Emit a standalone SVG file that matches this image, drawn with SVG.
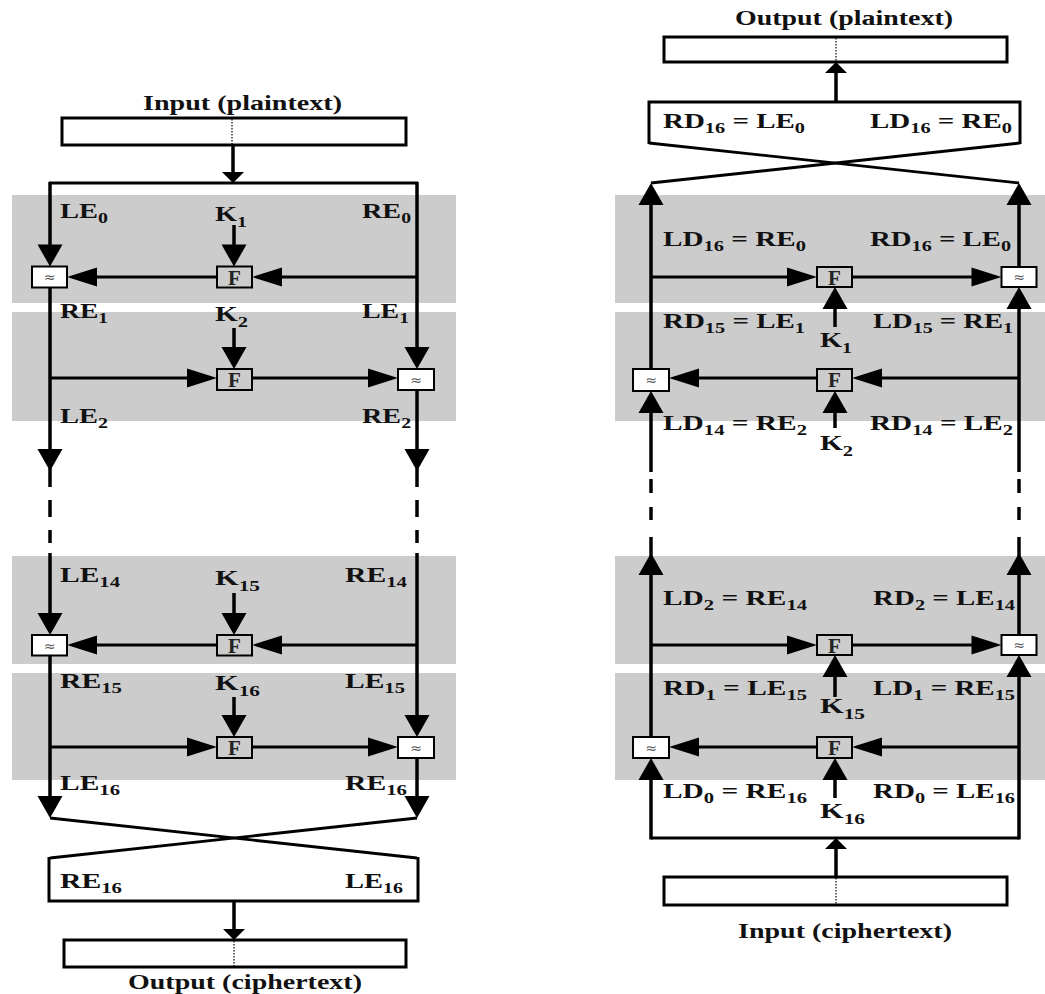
<svg xmlns="http://www.w3.org/2000/svg" xmlns:xlink="http://www.w3.org/1999/xlink" width="1045" height="994" viewBox="0 0 1045 994">
<style>
.band{fill:#cccccc}
.v{stroke:#000;stroke-width:3.5;fill:none}
.h{stroke:#000;stroke-width:2.8;fill:none}
.box{fill:#fff;stroke:#000;stroke-width:3}
.dot{stroke:#000;stroke-width:1.2;stroke-dasharray:1.5 1.5}
.fbox{fill:#cccccc;stroke:#000;stroke-width:2}
.xbox{fill:#fff;stroke:#000;stroke-width:2}
.ft{font-family:'Liberation Serif',serif;font-weight:bold;font-size:21px;fill:#222;text-anchor:middle}
.xt{font-family:'DejaVu Sans',sans-serif;font-size:14px;fill:#555;text-anchor:middle}
text.l{font-family:'Liberation Serif',serif;font-weight:bold;font-size:20px;fill:#111}
.s{font-size:14px}
</style>
<defs>
<path id="aD" d="M-12.5,-22 L12.5,-22 L0,0 Z"/>
<path id="aU" d="M-12.5,22 L12.5,22 L0,0 Z"/>
<path id="aR" d="M-30,-9.5 L-30,9.5 L0,0 Z"/>
<path id="aL" d="M30,-9.5 L30,9.5 L0,0 Z"/>
<path id="sD" d="M-11,-11 L11,-11 L0,0 Z"/>
<path id="sU" d="M-11,11 L11,11 L0,0 Z"/>
</defs>

<g id="bands">
<rect class="band" x="12" y="195" width="444" height="108"/>
<rect class="band" x="12" y="312" width="444" height="109"/>
<rect class="band" x="12" y="556" width="444" height="108"/>
<rect class="band" x="12" y="673" width="444" height="107"/>
<rect class="band" x="615" y="195" width="430" height="108"/>
<rect class="band" x="615" y="312" width="430" height="109"/>
<rect class="band" x="615" y="556" width="430" height="108"/>
<rect class="band" x="615" y="673" width="430" height="107"/>
</g>

<g id="connectors">
<line class="v" x1="233" y1="145" x2="233" y2="175"/>
<use href="#sD" x="233" y="183"/>
<line class="h" x1="49" y1="183" x2="418" y2="183"/>
<line class="v" x1="50" y1="182" x2="50" y2="247"/>
<use href="#aD" x="50" y="266.5"/>
<line class="v" x1="50" y1="287.5" x2="50" y2="452"/>
<use href="#aD" x="50" y="471"/>
<line class="v" x1="50" y1="468" x2="50" y2="487"/>
<line class="v" x1="50" y1="500" x2="50" y2="517"/>
<line class="v" x1="50" y1="530" x2="50" y2="543"/>
<line class="v" x1="50" y1="553" x2="50" y2="616"/>
<use href="#aD" x="50" y="635"/>
<line class="v" x1="50" y1="655" x2="50" y2="799"/>
<use href="#aD" x="50" y="818"/>
<line class="v" x1="417" y1="182" x2="417" y2="350"/>
<use href="#aD" x="417" y="369"/>
<line class="v" x1="417" y1="391" x2="417" y2="452"/>
<use href="#aD" x="417" y="471"/>
<line class="v" x1="417" y1="468" x2="417" y2="487"/>
<line class="v" x1="417" y1="500" x2="417" y2="517"/>
<line class="v" x1="417" y1="530" x2="417" y2="543"/>
<line class="v" x1="417" y1="553" x2="417" y2="718"/>
<use href="#aD" x="417" y="737"/>
<line class="v" x1="417" y1="758" x2="417" y2="799"/>
<use href="#aD" x="417" y="818"/>
<line class="h" x1="417" y1="277" x2="280" y2="277"/>
<use href="#aL" x="252" y="277"/>
<line class="h" x1="217" y1="277" x2="95" y2="277"/>
<use href="#aL" x="67" y="277"/>
<line class="v" x1="234" y1="225" x2="234" y2="247"/>
<use href="#aD" x="234" y="266.5"/>
<line class="h" x1="50" y1="378" x2="190" y2="378"/>
<use href="#aR" x="217" y="378"/>
<line class="h" x1="252" y1="378" x2="370" y2="378"/>
<use href="#aR" x="398" y="378"/>
<line class="v" x1="234" y1="328" x2="234" y2="350"/>
<use href="#aD" x="234" y="369"/>
<line class="h" x1="417" y1="645" x2="280" y2="645"/>
<use href="#aL" x="252" y="645"/>
<line class="h" x1="217" y1="645" x2="95" y2="645"/>
<use href="#aL" x="67" y="645"/>
<line class="v" x1="234" y1="593" x2="234" y2="616"/>
<use href="#aD" x="234" y="635"/>
<line class="h" x1="50" y1="747" x2="190" y2="747"/>
<use href="#aR" x="217" y="747"/>
<line class="h" x1="252" y1="747" x2="370" y2="747"/>
<use href="#aR" x="398" y="747"/>
<line class="v" x1="234" y1="697" x2="234" y2="718"/>
<use href="#aD" x="234" y="737"/>
<line class="h" x1="50" y1="818" x2="417" y2="858"/>
<line class="h" x1="417" y1="818" x2="50" y2="858"/>
<polyline class="h" points="49,857 49,901 418,901 418,857" style="stroke-width:3"/>
<line class="v" x1="234" y1="901" x2="234" y2="931"/>
<use href="#sD" x="234" y="940"/>

<line class="v" x1="836" y1="102" x2="836" y2="70"/>
<use href="#sU" x="836" y="62"/>
<polyline class="h" points="649,144 649,102 1020,102 1020,144" style="stroke-width:3"/>
<line class="h" x1="649" y1="143" x2="1019" y2="183"/>
<line class="h" x1="1020" y1="143" x2="651" y2="183"/>
<use href="#aU" x="651" y="183"/>
<line class="v" x1="651" y1="200" x2="651" y2="369"/>
<use href="#aU" x="651" y="391"/>
<line class="v" x1="651" y1="408" x2="651" y2="472"/>
<line class="v" x1="651" y1="479" x2="651" y2="493"/>
<line class="v" x1="651" y1="507" x2="651" y2="520"/>
<line class="v" x1="651" y1="537" x2="651" y2="560"/>
<use href="#aU" x="651" y="553"/>
<line class="v" x1="651" y1="570" x2="651" y2="737"/>
<use href="#aU" x="651" y="758"/>
<line class="v" x1="651" y1="775" x2="651" y2="839.5"/>
<use href="#aU" x="1019" y="183"/>
<line class="v" x1="1019" y1="200" x2="1019" y2="267"/>
<use href="#aU" x="1019" y="287"/>
<line class="v" x1="1019" y1="304" x2="1019" y2="472"/>
<line class="v" x1="1019" y1="479" x2="1019" y2="493"/>
<line class="v" x1="1019" y1="507" x2="1019" y2="520"/>
<line class="v" x1="1019" y1="537" x2="1019" y2="560"/>
<use href="#aU" x="1019" y="553"/>
<line class="v" x1="1019" y1="570" x2="1019" y2="635"/>
<use href="#aU" x="1019" y="655"/>
<line class="v" x1="1019" y1="672" x2="1019" y2="839.5"/>
<line class="h" x1="651" y1="838" x2="1019" y2="838"/>
<line class="v" x1="836" y1="877" x2="836" y2="846"/>
<use href="#sU" x="836" y="838"/>
<line class="h" x1="651" y1="277" x2="790" y2="277"/>
<use href="#aR" x="817" y="277"/>
<line class="h" x1="852" y1="277" x2="975" y2="277"/>
<use href="#aR" x="1001.5" y="277"/>
<line class="v" x1="835" y1="327" x2="835" y2="305"/>
<use href="#aU" x="835" y="287"/>
<line class="h" x1="1019" y1="378" x2="880" y2="378"/>
<use href="#aL" x="852" y="378"/>
<line class="h" x1="817" y1="378" x2="697" y2="378"/>
<use href="#aL" x="669" y="378"/>
<line class="v" x1="835" y1="428" x2="835" y2="408"/>
<use href="#aU" x="835" y="391"/>
<line class="h" x1="651" y1="645" x2="790" y2="645"/>
<use href="#aR" x="817" y="645"/>
<line class="h" x1="852" y1="645" x2="975" y2="645"/>
<use href="#aR" x="1001.5" y="645"/>
<line class="v" x1="835" y1="697" x2="835" y2="673"/>
<use href="#aU" x="835" y="655"/>
<line class="h" x1="1019" y1="747" x2="880" y2="747"/>
<use href="#aL" x="852" y="747"/>
<line class="h" x1="817" y1="747" x2="697" y2="747"/>
<use href="#aL" x="669" y="747"/>
<line class="v" x1="835" y1="798" x2="835" y2="775"/>
<use href="#aU" x="835" y="758"/>
</g>

<g id="input-plaintext"><rect class="box" x="62" y="118" width="344" height="27"/><line class="dot" x1="232" y1="119" x2="232" y2="144"/></g>
<g id="output-ciphertext"><rect class="box" x="64" y="940" width="342" height="27"/><line class="dot" x1="234" y1="941" x2="234" y2="966"/></g>
<g id="output-plaintext"><rect class="box" x="664" y="37" width="343" height="25"/><line class="dot" x1="836" y1="38" x2="836" y2="61"/></g>
<g id="input-ciphertext"><rect class="box" x="664" y="877" width="343" height="28"/><line class="dot" x1="836" y1="878" x2="836" y2="904"/></g>

<g id="enc-f1"><rect class="fbox" x="217" y="266.5" width="35" height="21"/><text class="ft" x="234.5" y="284.5">F</text></g>
<g id="enc-x1"><rect class="xbox" x="32" y="266.5" width="35" height="21"/><text class="xt" x="49.5" y="282">≈</text></g>
<g id="enc-f2"><rect class="fbox" x="217" y="369" width="35" height="21"/><text class="ft" x="234.5" y="387">F</text></g>
<g id="enc-x2"><rect class="xbox" x="398" y="369" width="36" height="21"/><text class="xt" x="416" y="384.5">≈</text></g>
<g id="enc-f15"><rect class="fbox" x="217" y="635" width="35" height="20.5"/><text class="ft" x="234.5" y="653">F</text></g>
<g id="enc-x15"><rect class="xbox" x="32" y="635" width="35" height="20.5"/><text class="xt" x="49.5" y="650.5">≈</text></g>
<g id="enc-f16"><rect class="fbox" x="217" y="737" width="35" height="21"/><text class="ft" x="234.5" y="755">F</text></g>
<g id="enc-x16"><rect class="xbox" x="398" y="737" width="36" height="21"/><text class="xt" x="416" y="752.5">≈</text></g>

<g id="dec-f16"><rect class="fbox" x="817" y="267" width="35" height="20"/><text class="ft" x="834.5" y="284.5">F</text></g>
<g id="dec-x16"><rect class="xbox" x="1001.5" y="267" width="35" height="20"/><text class="xt" x="1019" y="282">≈</text></g>
<g id="dec-f15"><rect class="fbox" x="817" y="369" width="35" height="22"/><text class="ft" x="834.5" y="387">F</text></g>
<g id="dec-x15"><rect class="xbox" x="633" y="369" width="36" height="22"/><text class="xt" x="651" y="385">≈</text></g>
<g id="dec-f2"><rect class="fbox" x="817" y="635" width="35" height="20"/><text class="ft" x="834.5" y="652.5">F</text></g>
<g id="dec-x2"><rect class="xbox" x="1001.5" y="635" width="35" height="20"/><text class="xt" x="1019" y="650">≈</text></g>
<g id="dec-f1"><rect class="fbox" x="817" y="737" width="35" height="21"/><text class="ft" x="834.5" y="755">F</text></g>
<g id="dec-x1"><rect class="xbox" x="633" y="737" width="36" height="21"/><text class="xt" x="651" y="752.5">≈</text></g>

<g id="labels">
<text class="l" x="143" y="110" textLength="199" lengthAdjust="spacingAndGlyphs">Input (plaintext)</text>
<text class="l" x="128" y="989" textLength="234" lengthAdjust="spacingAndGlyphs">Output (ciphertext)</text>
<text class="l" x="60" y="218" textLength="48" lengthAdjust="spacingAndGlyphs">LE<tspan class="s" dy="5">0</tspan></text>
<text class="l" x="215" y="221" textLength="32" lengthAdjust="spacingAndGlyphs">K<tspan class="s" dy="6">1</tspan></text>
<text class="l" x="362" y="218" textLength="49" lengthAdjust="spacingAndGlyphs">RE<tspan class="s" dy="5">0</tspan></text>
<text class="l" x="60" y="318" textLength="48" lengthAdjust="spacingAndGlyphs">RE<tspan class="s" dy="5">1</tspan></text>
<text class="l" x="215" y="321" textLength="33" lengthAdjust="spacingAndGlyphs">K<tspan class="s" dy="6">2</tspan></text>
<text class="l" x="362" y="318" textLength="47" lengthAdjust="spacingAndGlyphs">LE<tspan class="s" dy="5">1</tspan></text>
<text class="l" x="60" y="423" textLength="48" lengthAdjust="spacingAndGlyphs">LE<tspan class="s" dy="5">2</tspan></text>
<text class="l" x="362" y="423" textLength="49" lengthAdjust="spacingAndGlyphs">RE<tspan class="s" dy="5">2</tspan></text>
<text class="l" x="60" y="582" textLength="60" lengthAdjust="spacingAndGlyphs">LE<tspan class="s" dy="5">14</tspan></text>
<text class="l" x="215" y="585" textLength="45" lengthAdjust="spacingAndGlyphs">K<tspan class="s" dy="6">15</tspan></text>
<text class="l" x="345" y="582" textLength="62" lengthAdjust="spacingAndGlyphs">RE<tspan class="s" dy="5">14</tspan></text>
<text class="l" x="60" y="688" textLength="62" lengthAdjust="spacingAndGlyphs">RE<tspan class="s" dy="5">15</tspan></text>
<text class="l" x="215" y="690" textLength="45" lengthAdjust="spacingAndGlyphs">K<tspan class="s" dy="6">16</tspan></text>
<text class="l" x="345" y="688" textLength="60" lengthAdjust="spacingAndGlyphs">LE<tspan class="s" dy="5">15</tspan></text>
<text class="l" x="60" y="790" textLength="60" lengthAdjust="spacingAndGlyphs">LE<tspan class="s" dy="5">16</tspan></text>
<text class="l" x="345" y="790" textLength="62" lengthAdjust="spacingAndGlyphs">RE<tspan class="s" dy="5">16</tspan></text>
<text class="l" x="60" y="888" textLength="62" lengthAdjust="spacingAndGlyphs">RE<tspan class="s" dy="5">16</tspan></text>
<text class="l" x="345" y="888" textLength="58" lengthAdjust="spacingAndGlyphs">LE<tspan class="s" dy="5">16</tspan></text>

<text class="l" x="735" y="25" textLength="218" lengthAdjust="spacingAndGlyphs">Output (plaintext)</text>
<text class="l" x="738" y="938" textLength="214" lengthAdjust="spacingAndGlyphs">Input (ciphertext)</text>
<text class="l" x="663" y="128" textLength="142" lengthAdjust="spacingAndGlyphs">RD<tspan class="s" dy="5">16</tspan><tspan dy="-5"> = LE</tspan><tspan class="s" dy="5">0</tspan></text>
<text class="l" x="870" y="128" textLength="142" lengthAdjust="spacingAndGlyphs">LD<tspan class="s" dy="5">16</tspan><tspan dy="-5"> = RE</tspan><tspan class="s" dy="5">0</tspan></text>
<text class="l" x="663" y="246" textLength="143" lengthAdjust="spacingAndGlyphs">LD<tspan class="s" dy="5">16</tspan><tspan dy="-5"> = RE</tspan><tspan class="s" dy="5">0</tspan></text>
<text class="l" x="870" y="246" textLength="141" lengthAdjust="spacingAndGlyphs">RD<tspan class="s" dy="5">16</tspan><tspan dy="-5"> = LE</tspan><tspan class="s" dy="5">0</tspan></text>
<text class="l" x="663" y="328" textLength="142" lengthAdjust="spacingAndGlyphs">RD<tspan class="s" dy="5">15</tspan><tspan dy="-5"> = LE</tspan><tspan class="s" dy="5">1</tspan></text>
<text class="l" x="873" y="328" textLength="140" lengthAdjust="spacingAndGlyphs">LD<tspan class="s" dy="5">15</tspan><tspan dy="-5"> = RE</tspan><tspan class="s" dy="5">1</tspan></text>
<text class="l" x="820" y="347" textLength="32" lengthAdjust="spacingAndGlyphs">K<tspan class="s" dy="6">1</tspan></text>
<text class="l" x="663" y="430" textLength="144" lengthAdjust="spacingAndGlyphs">LD<tspan class="s" dy="5">14</tspan><tspan dy="-5"> = RE</tspan><tspan class="s" dy="5">2</tspan></text>
<text class="l" x="870" y="430" textLength="143" lengthAdjust="spacingAndGlyphs">RD<tspan class="s" dy="5">14</tspan><tspan dy="-5"> = LE</tspan><tspan class="s" dy="5">2</tspan></text>
<text class="l" x="820" y="450" textLength="33" lengthAdjust="spacingAndGlyphs">K<tspan class="s" dy="6">2</tspan></text>
<text class="l" x="663" y="605" textLength="144" lengthAdjust="spacingAndGlyphs">LD<tspan class="s" dy="5">2</tspan><tspan dy="-5"> = RE</tspan><tspan class="s" dy="5">14</tspan></text>
<text class="l" x="873" y="605" textLength="142" lengthAdjust="spacingAndGlyphs">RD<tspan class="s" dy="5">2</tspan><tspan dy="-5"> = LE</tspan><tspan class="s" dy="5">14</tspan></text>
<text class="l" x="663" y="695" textLength="144" lengthAdjust="spacingAndGlyphs">RD<tspan class="s" dy="5">1</tspan><tspan dy="-5"> = LE</tspan><tspan class="s" dy="5">15</tspan></text>
<text class="l" x="873" y="695" textLength="142" lengthAdjust="spacingAndGlyphs">LD<tspan class="s" dy="5">1</tspan><tspan dy="-5"> = RE</tspan><tspan class="s" dy="5">15</tspan></text>
<text class="l" x="820" y="713" textLength="45" lengthAdjust="spacingAndGlyphs">K<tspan class="s" dy="6">15</tspan></text>
<text class="l" x="663" y="798" textLength="144" lengthAdjust="spacingAndGlyphs">LD<tspan class="s" dy="5">0</tspan><tspan dy="-5"> = RE</tspan><tspan class="s" dy="5">16</tspan></text>
<text class="l" x="873" y="798" textLength="142" lengthAdjust="spacingAndGlyphs">RD<tspan class="s" dy="5">0</tspan><tspan dy="-5"> = LE</tspan><tspan class="s" dy="5">16</tspan></text>
<text class="l" x="820" y="818" textLength="45" lengthAdjust="spacingAndGlyphs">K<tspan class="s" dy="6">16</tspan></text>
</g>
</svg>
